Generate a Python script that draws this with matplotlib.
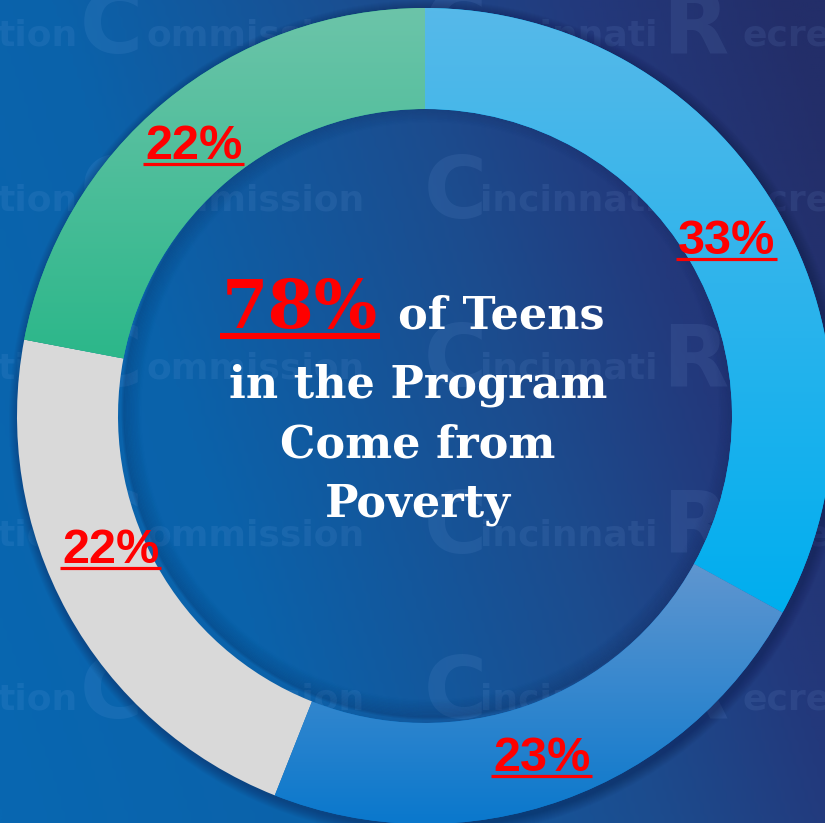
import matplotlib
matplotlib.use('Agg')
import matplotlib.pyplot as plt
import numpy as np
from matplotlib.colors import LinearSegmentedColormap, to_rgb
from matplotlib.patches import Circle, Wedge

W, H = 825, 823

# donut data (clockwise from 12 o'clock)
shares = [33, 23, 22, 22]
labels = ['33%', '23%', '22%', '22%']
seg_top = ['#56b9e9', '#5f96d0', '#d9d9d9', '#6cc4a9']
seg_bottom = ['#00aeef', '#0a78cc', '#d9d9d9', '#2cb78a']

headline_pct = '78%'
headline_rest = 'of Teens'
headline_lines = ['in the Program', 'Come from', 'Poverty']

watermark_words = ['tion', 'C', 'ommission', 'C', 'incinnati', 'R', 'ecreation']

# layout, in pixels from top-left
center_px = (425, 416)
r_out, ring_w = 408, 101
label_pos = [(678, 254), (493, 771), (62, 563), (145, 159)]
wm_x = [-3, 80, 146, 424, 480, 662, 742]
wm_rows = [45, 210, 378, 545, 710]


def Y(p):
    return H - p


fig = plt.figure(figsize=(W / 100, H / 100), dpi=100)
ax = fig.add_axes([0, 0, 1, 1])
ax.set_axis_off()

# background gradient: bright blue bottom-left -> navy top-right
bg_cmap = LinearSegmentedColormap.from_list(
    'bg', [(0, '#0867b1'), (0.3, '#0b62aa'), (0.62, '#1c4c8e'),
           (0.8, '#23397c'), (1.0, '#232e69')])
xx, yy = np.meshgrid(np.linspace(0, 1, 200), np.linspace(0, 1, 200))
t = np.clip(0.78 * xx + 0.25 * (1 - yy), 0, 1)
ax.imshow(bg_cmap(t), extent=(0, W, 0, H), origin='upper',
          aspect='auto', zorder=0, interpolation='bilinear')

# faint watermark text
for row in wm_rows:
    for word, x in zip(watermark_words, wm_x):
        big = len(word) == 1
        ax.text(x, Y(row) - (8 if big else 0), word,
                fontsize=62 if big else 26, fontweight='bold',
                family='DejaVu Sans', color='#9cc4ff', alpha=0.09,
                ha='left', va='baseline', zorder=1)

cx, cy = center_px[0], Y(center_px[1])
r_in = r_out - ring_w

# drop shadow behind the ring (annuli only, so the hole stays clear)
for k in range(1, 12):
    ax.add_patch(Wedge((cx + 3, cy - 3), r_out + k, 0, 360,
                       width=ring_w / 2 + k, color='#0a1540',
                       alpha=0.035, lw=0, zorder=2))

wedges, _ = ax.pie(shares, startangle=90, counterclock=False,
                   radius=r_out, center=(cx, cy), colors=seg_bottom,
                   wedgeprops=dict(width=ring_w, linewidth=0))
for w in wedges:
    w.set_zorder(3)

# vertical gradients on the segments
for w, c0, c1 in zip(wedges, seg_top, seg_bottom):
    if c0 == c1:
        continue
    ext = w.get_path().get_extents()
    grad = np.linspace(0, 1, 100)[:, None, None]
    img = (1 - grad) * np.array(to_rgb(c0)) + grad * np.array(to_rgb(c1))
    im = ax.imshow(img, extent=(ext.x0, ext.x1, ext.y0, ext.y1),
                   origin='upper', aspect='auto', zorder=3.5,
                   interpolation='bilinear')
    im.set_clip_path(w)

# inner shadow inside the hole
hole = Circle((cx, cy), r_in, transform=ax.transData)
for k in range(14):
    sh = Circle((cx + 5, cy + 5), r_in - k * 1.3, fill=False,
                ec='#06123a', lw=2.2, alpha=0.09 * (1 - k / 14), zorder=2.5)
    ax.add_patch(sh)
    sh.set_clip_path(hole)

ax.set_xlim(0, W)
ax.set_ylim(0, H)

fig.canvas.draw()
renderer = fig.canvas.get_renderer()
inv = ax.transData.inverted()


def underline(txt, base_y, off, lw):
    bb = txt.get_window_extent(renderer)
    x0 = inv.transform((bb.x0, 0))[0]
    x1 = inv.transform((bb.x1, 0))[0]
    ax.plot([x0 - 2, x1 + 2], [Y(base_y + off)] * 2, color='#ff0000',
            lw=lw, solid_capstyle='butt', zorder=6)


# segment labels
for lab, (x, yb) in zip(labels, label_pos):
    tx = ax.text(x, Y(yb), lab, color='#ff0000', fontsize=35,
                 fontweight='bold',
                 family=['Liberation Sans', 'DejaVu Sans'],
                 ha='left', va='baseline', zorder=6)
    underline(tx, yb, 4.5, 2.3)

# headline in the middle
serif = ['DejaVu Serif']
pct = ax.text(378, Y(328), headline_pct, color='#ff0000', fontsize=48,
              fontweight='bold', family=serif, ha='right', va='baseline',
              zorder=6)
underline(pct, 328, 8, 4.4)
ax.text(398, Y(328), headline_rest, color='white', fontsize=32,
        fontweight='bold', family=serif, ha='left', va='baseline', zorder=6)
for i, line in enumerate(headline_lines):
    ax.text(418, Y(397 + 60 * i), line, color='white', fontsize=32,
            fontweight='bold', family=serif, ha='center', va='baseline',
            zorder=6)

fig.savefig('out.png', dpi=100)
